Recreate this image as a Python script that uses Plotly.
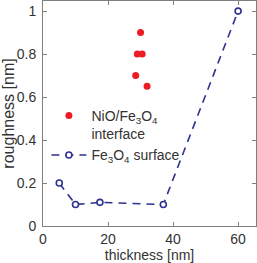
import plotly.graph_objects as go

# data
nio_thickness = [28.5, 29.0, 30.0, 30.5, 32.0]
nio_roughness = [0.70, 0.80, 0.90, 0.80, 0.65]

fe_thickness = [5.0, 10.0, 17.5, 37.0, 60.0]
fe_roughness = [0.20, 0.10, 0.11, 0.10, 1.00]

x_ticks = [0, 20, 40, 60]
y_ticks = [0, 0.2, 0.4, 0.6, 0.8, 1.0]
y_tick_labels = ["0", "0.2", "0.4", "0.6", "0.8", "1"]

red = "#ec1c24"
blue = "#2e3192"
txt = "#333333"
axc = "#7f7f7f"
fam = "Liberation Sans, Arial"

fig = go.Figure()
fig.add_trace(go.Scatter(
    x=nio_thickness, y=nio_roughness, mode="markers",
    name="NiO/Fe<sub>3</sub>O<sub>4</sub><br>interface",
    marker=dict(color=red, size=7, symbol="circle"),
))
fig.add_trace(go.Scatter(
    x=fe_thickness, y=fe_roughness, mode="lines+markers",
    name="Fe<sub>3</sub>O<sub>4</sub> surface",
    line=dict(color=blue, width=1.6, dash="8px,6px"),
    marker=dict(color="white", size=6, symbol="circle",
                line=dict(color=blue, width=1.6)),
))

axis_common = dict(
    showline=True, linecolor=axc, linewidth=1, mirror="ticks",
    ticks="inside", ticklen=4, tickcolor=axc, tickwidth=1,
    showgrid=False, zeroline=False, automargin=False,
    tickfont=dict(family=fam, size=14, color=txt),
)

fig.update_layout(
    width=257, height=263,
    margin=dict(l=43, r=1, t=1, b=37),
    paper_bgcolor="white", plot_bgcolor="white",
    font=dict(family=fam, size=14, color=txt),
    showlegend=True,
    legend=dict(x=0.016, y=0.56, xanchor="left", yanchor="top",
                valign="top", itemwidth=35,
                bgcolor="rgba(0,0,0,0)", borderwidth=0,
                font=dict(size=14, color=txt), tracegroupgap=0),
    xaxis=dict(range=[0, 65.5], tickvals=x_ticks, ticklabelstandoff=0,
               title=dict(text="thickness [nm]", standoff=7,
                          font=dict(size=14, color=txt)),
               **axis_common),
    yaxis=dict(range=[0, 1.047], tickvals=y_ticks, ticktext=y_tick_labels,
               ticklabelstandoff=3,
               title=dict(text="roughness [nm]", standoff=4,
                          font=dict(size=16, color=txt)),
               **axis_common),
)

fig.write_html("out.html",
               config={"displayModeBar": False},
               post_script="document.body.style.margin='0';document.body.style.overflow='hidden';")
